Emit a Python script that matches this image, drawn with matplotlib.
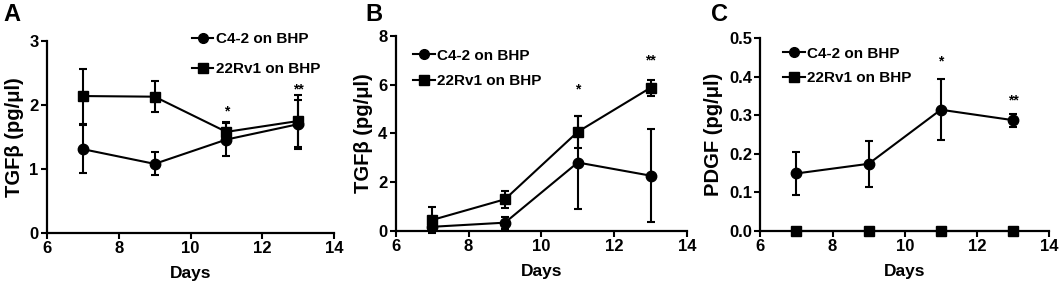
import matplotlib.pyplot as plt
from matplotlib.lines import Line2D

plt.rcParams['font.family'] = ['Liberation Sans', 'DejaVu Sans']
plt.rcParams['font.weight'] = 'bold'

days = [7, 9, 11, 13]

# Panel A - TGFb
a_c42 = [1.31, 1.08, 1.46, 1.70]
a_c42_err = [0.38, 0.18, 0.26, 0.38]
a_rv1 = [2.14, 2.13, 1.58, 1.75]
a_rv1_err = [0.43, 0.24, 0.16, 0.41]

# Panel B - TGFb
b_c42 = [0.16, 0.33, 2.80, 2.26]
b_c42_err = [0.10, 0.24, 1.92, 1.92]
b_rv1 = [0.44, 1.29, 4.06, 5.87]
b_rv1_err = [0.54, 0.36, 0.67, 0.32]

# Panel C - PDGF
c_c42 = [0.149, 0.174, 0.314, 0.287]
c_c42_err = [0.055, 0.059, 0.079, 0.017]
c_rv1 = [0.0, 0.0, 0.0, 0.0]
c_rv1_err = [0.0, 0.0, 0.0, 0.0]

stars = ['*', '**']
star_days = [11, 13]
a_star_y = [1.90, 2.25]
b_star_y = [5.80, 7.00]
c_star_y = [0.440, 0.337]

panels = [
    dict(pos=[0.0444, 0.1796, 0.271, 0.676], c42=a_c42, c42e=a_c42_err, rv1=a_rv1, rv1e=a_rv1_err,
         ylim=(0, 3), yticks=[0, 1, 2, 3], ylabel='TGF\u03b2 (pg/\u03bcl)', letter='A', lx=0.003,
         star_y=a_star_y, leg=(0.505, 1.045), lsp=1.05, fmt='%d'),
    dict(pos=[0.3737, 0.1877, 0.275, 0.686], c42=b_c42, c42e=b_c42_err, rv1=b_rv1, rv1e=b_rv1_err,
         ylim=(0, 8), yticks=[0, 2, 4, 6, 8], ylabel='TGF\u03b2 (pg/\u03bcl)', letter='B', lx=0.345,
         star_y=b_star_y, leg=(0.06, 0.935), lsp=0.75, fmt='%d'),
    dict(pos=[0.718, 0.1866, 0.2726, 0.680], c42=c_c42, c42e=c_c42_err, rv1=c_rv1, rv1e=c_rv1_err,
         ylim=(0, 0.5), yticks=[0, 0.1, 0.2, 0.3, 0.4, 0.5], ylabel='PDGF (pg/\u03bcl)', letter='C', lx=0.671,
         star_y=c_star_y, leg=(0.08, 0.955), lsp=0.7, fmt='%.1f'),
]

fig = plt.figure(figsize=(10.59, 2.84), dpi=100)

for p in panels:
    ax = fig.add_axes(p['pos'])
    ax.errorbar(days, p['c42'], yerr=p['c42e'], color='black', marker='o', markersize=7.5,
                linewidth=1.5, elinewidth=1.5, capsize=3, capthick=1.5, clip_on=False, zorder=3)
    ax.errorbar(days, p['rv1'], yerr=p['rv1e'], color='black', marker='s', markersize=7,
                linewidth=1.5, elinewidth=1.5, capsize=3, capthick=1.5, clip_on=False, zorder=3)
    for d, s, y in zip(star_days, stars, p['star_y']):
        ax.text(d, y, s, ha='center', va='center', fontsize=10)
    ax.set_xlim(6, 14)
    ax.set_xticks([6, 8, 10, 12, 14])
    ax.set_ylim(*p['ylim'])
    ax.set_yticks(p['yticks'])
    ax.yaxis.set_major_formatter(plt.FormatStrFormatter(p['fmt']))
    for side in ['top', 'right']:
        ax.spines[side].set_visible(False)
    for side in ['left', 'bottom']:
        ax.spines[side].set_linewidth(1.6)
    ax.tick_params(width=1.5, length=4, labelsize=12, pad=2)
    ax.set_xlabel('Days', fontsize=12.5, fontweight='bold', labelpad=7)
    ax.set_ylabel(p['ylabel'], fontsize=14.5, fontweight='bold', labelpad=4)
    fig.text(p['lx'], 0.99, p['letter'], fontsize=17, fontweight='bold', va='top', ha='left')
    handles = [Line2D([], [], color='black', marker='o', markersize=7, linewidth=1.5),
               Line2D([], [], color='black', marker='s', markersize=7, linewidth=1.5)]
    ax.legend(handles, ['C4-2 on BHP', '22Rv1 on BHP'], loc='upper left', bbox_to_anchor=p['leg'],
              frameon=False, fontsize=11, handlelength=1.4, handletextpad=0.15,
              labelspacing=p['lsp'], borderaxespad=0, borderpad=0)

fig.savefig('out.png', dpi=100)
